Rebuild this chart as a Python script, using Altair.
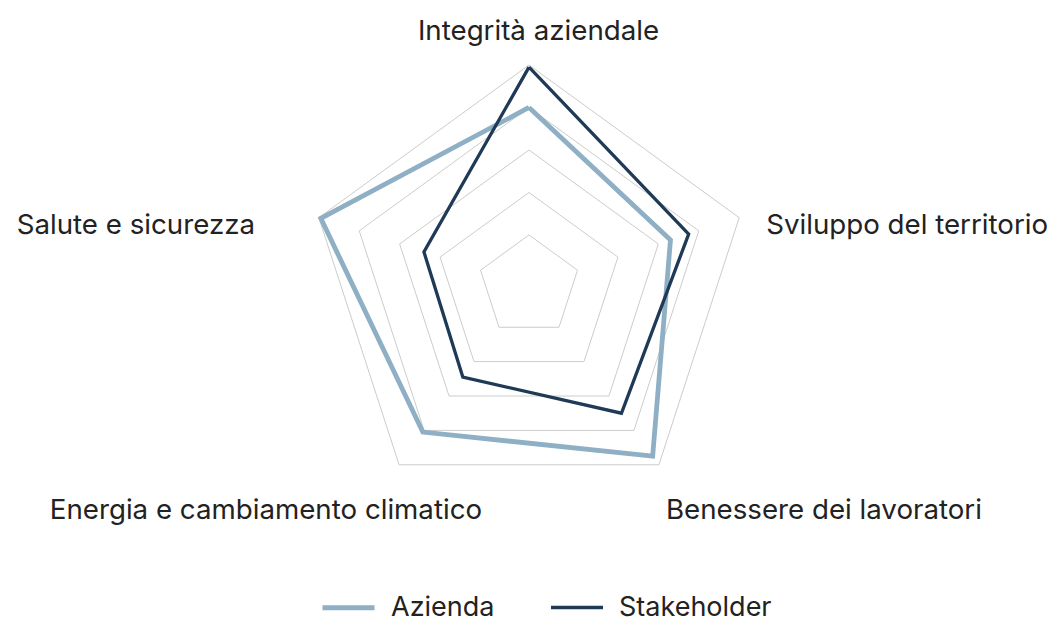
import altair as alt
import pandas as pd

# ---- data ----
categories = [
    "Integrità aziendale",
    "Sviluppo del territorio",
    "Benessere dei lavoratori",
    "Energia e cambiamento climatico",
    "Salute e sicurezza",
]
azienda = [4.0, 3.3, 4.75, 4.05, 4.95]
stakeholder = [4.95, 3.75, 3.5, 2.45, 2.4]
series_names = ["Azienda", "Stakeholder"]
grid_levels = [1, 2, 3, 4, 5]

# ---- style / layout ----
VMIN = -0.2
COLORS = ["#8eafc4", "#1f3a56"]
FONT = "Inter"
FS = 27.7
W, H = 1039, 610
N = len(categories)

rows = []
for s, vals in zip(series_names, [azienda, stakeholder]):
    for i in range(N + 1):
        k = i % N
        rows.append({"series": s, "axis": k, "ord": i, "category": categories[k], "value": vals[k]})
series_df = pd.DataFrame(rows)

grid_rows = []
for lv in grid_levels:
    for i in range(N + 1):
        grid_rows.append({"level": lv, "axis": i % N, "ord": i, "value": lv})
grid_df = pd.DataFrame(grid_rows)

label_df = pd.DataFrame({"axis": list(range(N)), "category": categories, "value": [grid_levels[-1]] * N})

xs = alt.Scale(domain=[-12.259, 12.188], nice=False, zero=False)
ys = alt.Scale(domain=[-7.812, 6.541], nice=False, zero=False)


def polar(ch):
    return ch.transform_calculate(
        u=f"datum.value - ({VMIN})",
        ang=f"datum.axis * 2 * PI / {N}",
    ).transform_calculate(
        px="datum.u * sin(datum.ang)",
        py="datum.u * cos(datum.ang)",
    )


grid = polar(alt.Chart(grid_df)).mark_line(color="#cccccc", strokeWidth=1).encode(
    x=alt.X("px:Q", scale=xs, axis=None),
    y=alt.Y("py:Q", scale=ys, axis=None),
    detail="level:N",
    order="ord:Q",
)

lines = polar(alt.Chart(series_df)).mark_line(strokeJoin="miter").encode(
    x=alt.X("px:Q", scale=xs, axis=None),
    y=alt.Y("py:Q", scale=ys, axis=None),
    color=alt.Color(
        "series:N",
        scale=alt.Scale(domain=series_names, range=COLORS),
        legend=alt.Legend(
            title=None,
            orient="none",
            legendX=312,
            legendY=571,
            direction="horizontal",
            symbolType="stroke",
            symbolSize=2704,
            symbolStrokeWidth=4,
            labelFont=FONT,
            labelFontSize=27,
            labelColor="#222222",
            labelOffset=14,
            columnPadding=49,
            padding=0,
        ),
    ),
    strokeWidth=alt.StrokeWidth(
        "series:N", scale=alt.Scale(domain=series_names, range=[4.8, 3.3]), legend=None
    ),
    order="ord:Q",
)

label_specs = [
    (0, "center", 9.5, -25),
    (1, "left", 27, 16.3),
    (2, "left", 7, 54.2),
    (3, "right", 83, 54.2),
    (4, "right", -63.8, 16.3),
]
label_layers = []
for idx, al, dx, dy in label_specs:
    label_layers.append(
        polar(alt.Chart(label_df))
        .transform_filter(f"datum.axis == {idx}")
        .mark_text(align=al, baseline="alphabetic", dx=dx, dy=dy, font=FONT, fontSize=FS, color="#222222")
        .encode(
            x=alt.X("px:Q", scale=xs, axis=None),
            y=alt.Y("py:Q", scale=ys, axis=None),
            text="category:N",
        )
    )

chart = alt.layer(grid, lines, *label_layers).properties(
    width=W,
    height=H,
    autosize=alt.AutoSizeParams(type="none"),
    padding=0,
).configure_view(stroke=None)

chart.save("out.html", embed_options={"renderer": "svg", "actions": False})
